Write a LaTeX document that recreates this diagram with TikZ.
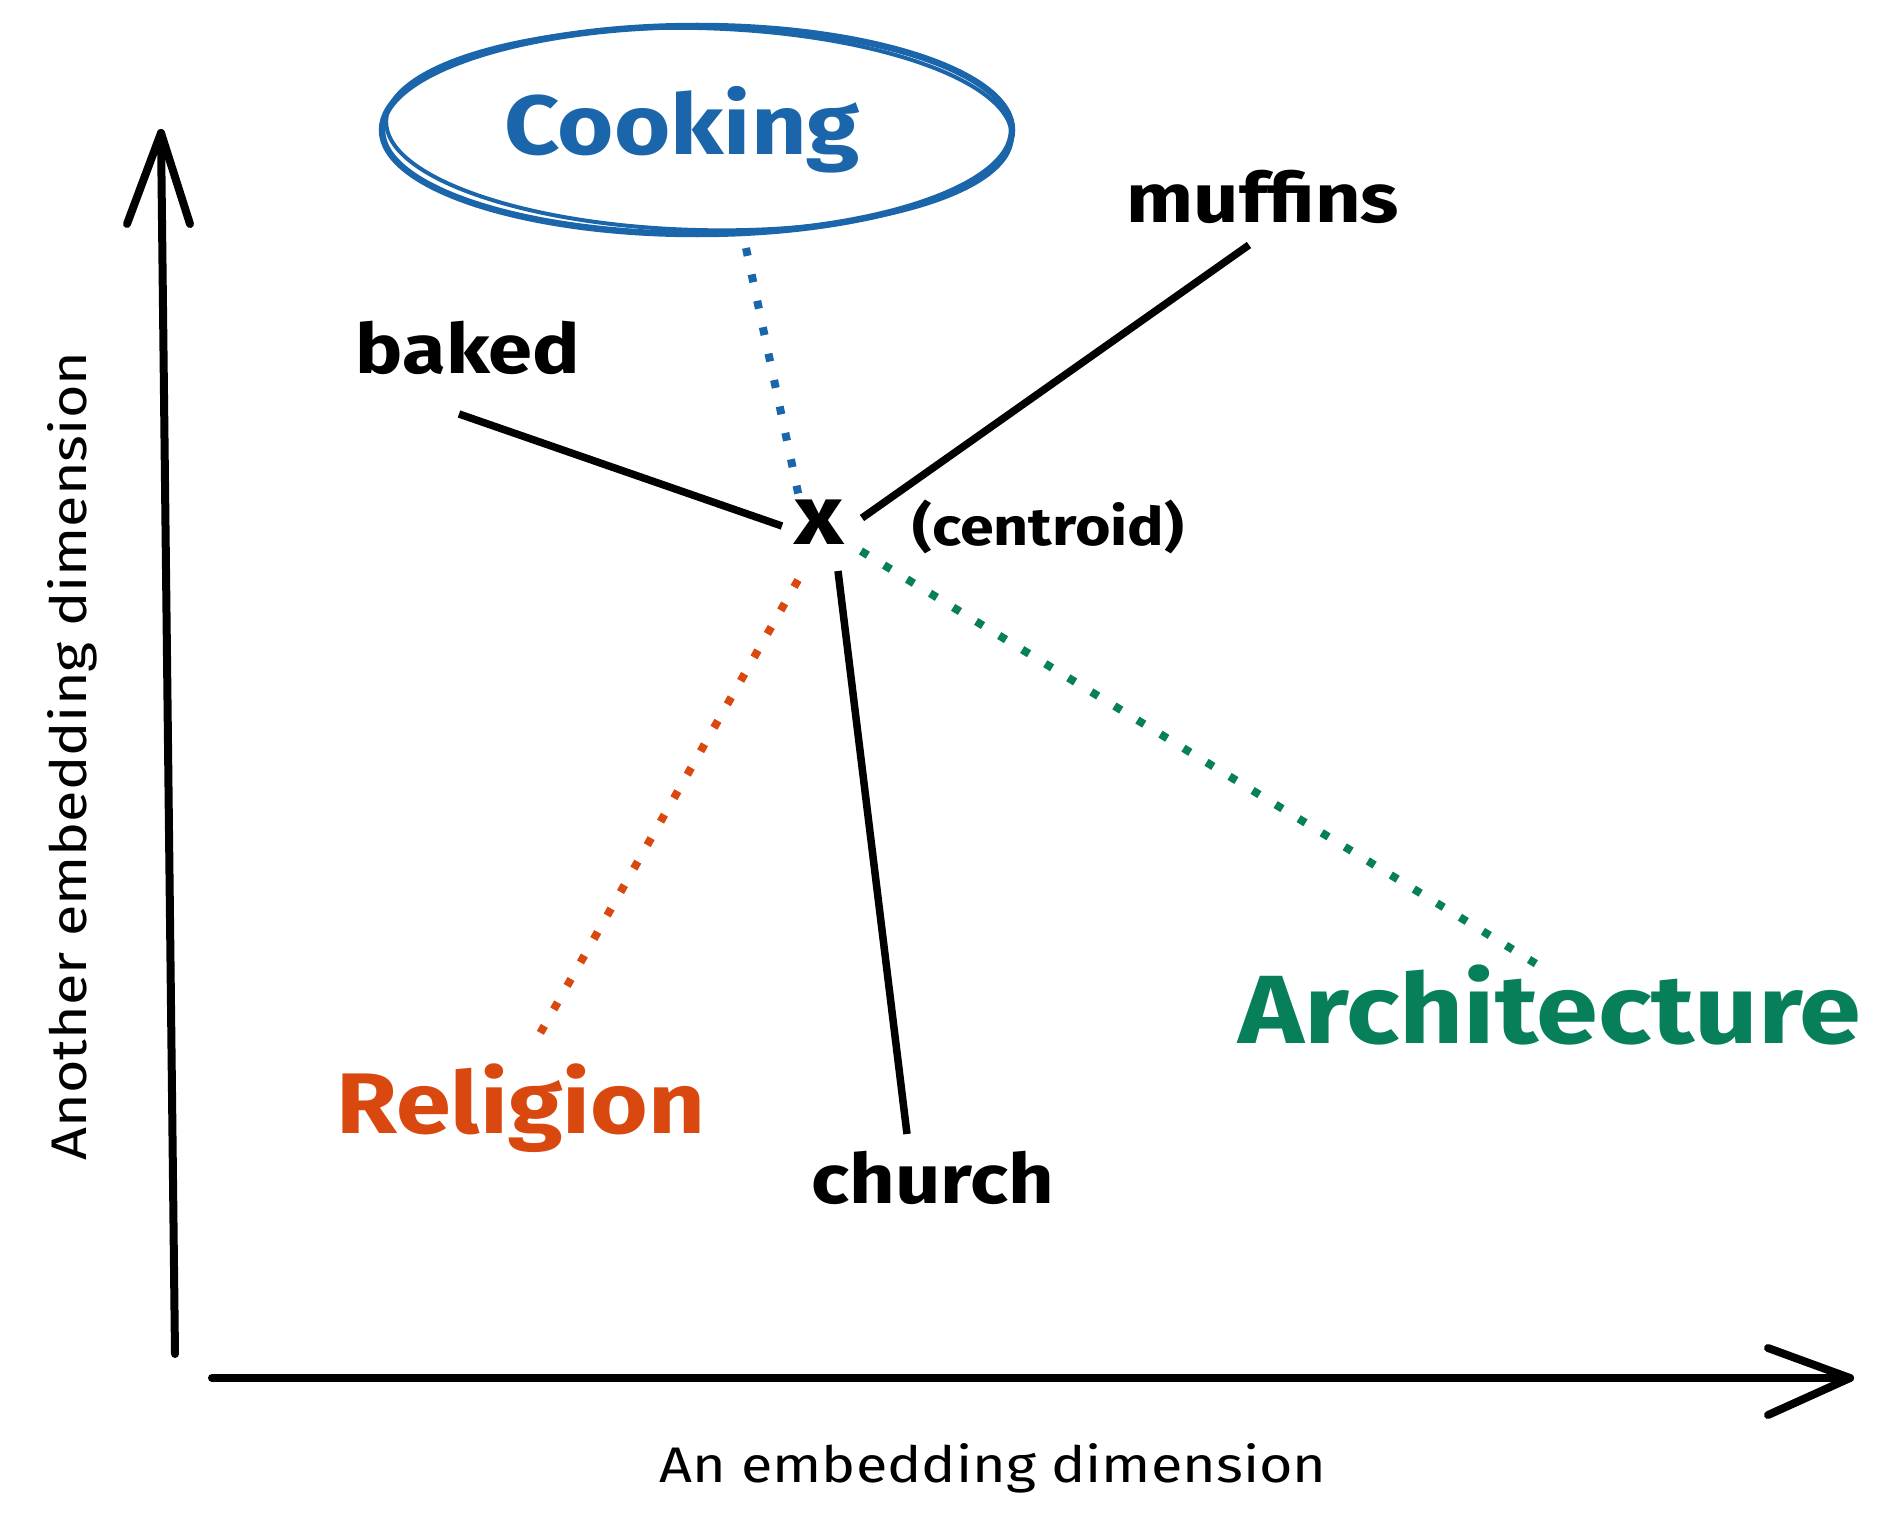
\documentclass[tikz,border=0pt]{standalone}
\usepackage{fontspec}
\setmainfont[FakeStretch=1.15]{Fira Sans}
\definecolor{cblue}{HTML}{1B65AB}
\definecolor{corange}{HTML}{D9480F}
\definecolor{cgreen}{HTML}{087F5B}
\begin{document}
\begin{tikzpicture}[x=1pt,y=-1pt,
  axis/.style={line width=8pt,line cap=round,line join=round},
  link/.style={line width=7.5pt,line cap=butt},
  dots/.style={line width=8pt,dash pattern=on 8pt off 19pt},
  word/.style={inner sep=0pt,font=\fontsize{69}{72}\selectfont\bfseries},
  big/.style={inner sep=0pt,font=\fontsize{#1}{#1}\selectfont\bfseries},
  lab/.style={inner sep=0pt,font=\fontsize{50}{50}\selectfont}]
\useasboundingbox (0,0) rectangle (1896,1536);
% axes
\coordinate (ybot) at (175,1354);
\coordinate (ytop) at (161,133);
\coordinate (yal) at (127,224);
\coordinate (yar) at (190,224);
\coordinate (xl) at (212,1378);
\coordinate (xr) at (1850,1378);
\coordinate (xau) at (1768,1348);
\coordinate (xad) at (1768,1415);
\draw[axis] (ybot) -- (ytop);
\draw[axis] (yal) -- (ytop) -- (yar);
\draw[axis] (xl) -- (xr);
\draw[axis] (xau) -- (xr) -- (xad);
\node[lab,rotate=90] (ylab) at (72,756) {Another embedding dimension};
\node[lab] (xlab) at (993,1468) {An embedding dimension};
% Cooking
\draw[cblue,line width=6.5pt] (697,130) ellipse [x radius=315, y radius=104];
\draw[cblue,line width=4pt,rotate around={-1.5:(697,130)}] (699,129) ellipse [x radius=313, y radius=101];
\node[big=84,text=cblue] (cooking) at (682,130) {Cooking};
% centroid
\node[inner sep=0pt,font=\fontsize{84}{84}\selectfont\bfseries] (c) at (819,522) {x};
\node[big=53,anchor=west] (cent) at (912,527) {(centroid)};
% words
\node[word] (muffins) at (1263,197) {muffins};
\node[word] (baked) at (468,348) {baked};
\node[word] (church) at (933,1178) {church};
\node[big=86,text=corange] (religion) at (521,1108) {Religion};
\node[big=97,text=cgreen] (arch) at (1550,1005) {Architecture};
% solid links
\coordinate (m1) at (1249,245); \coordinate (m2) at (862,518);
\coordinate (b1) at (459,414);  \coordinate (b2) at (782,526);
\coordinate (h1) at (838,571);  \coordinate (h2) at (907,1134);
\draw[link] (m1) -- (m2);
\draw[link] (b1) -- (b2);
\draw[link] (h1) -- (h2);
% dotted links
\coordinate (k1) at (746,248); \coordinate (k2) at (800,502);
\coordinate (r1) at (798,580); \coordinate (r2) at (538,1037);
\coordinate (a1) at (861,551); \coordinate (a2) at (1538,965);
\draw[dots,cblue] (k1) -- (k2);
\draw[dots,corange] (r1) -- (r2);
\draw[dots,cgreen] (a1) -- (a2);
\end{tikzpicture}
\end{document}
